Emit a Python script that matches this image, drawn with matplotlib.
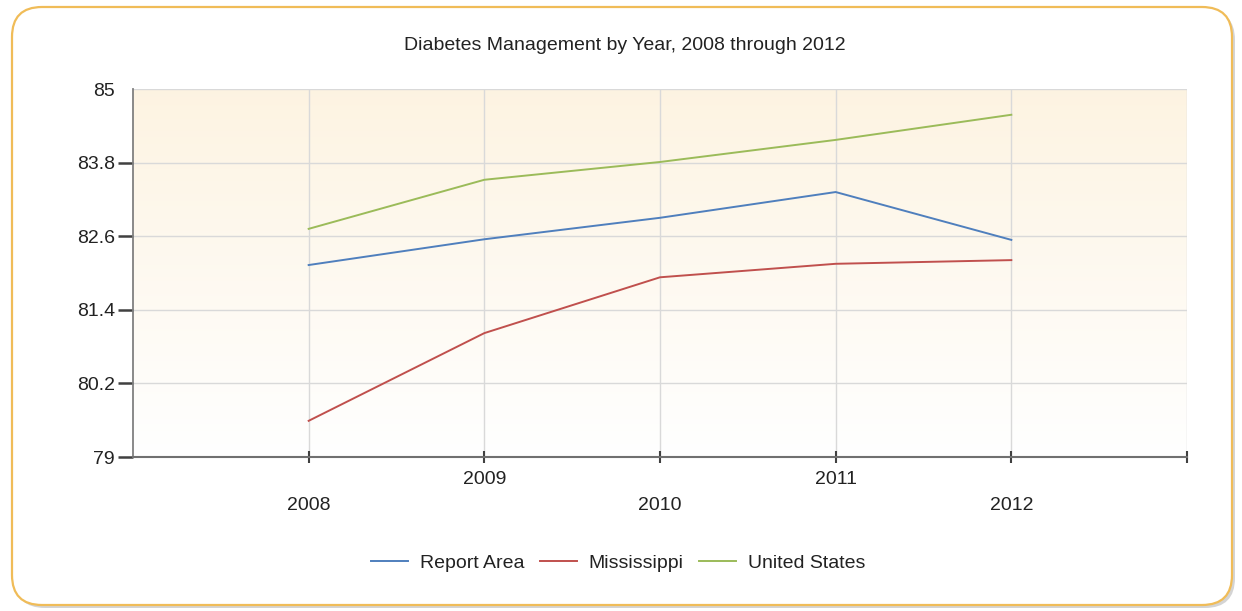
import matplotlib
matplotlib.use('Agg')
import matplotlib.pyplot as plt
import numpy as np
from matplotlib.patches import FancyBboxPatch

plt.rcParams['font.family'] = ['Liberation Sans', 'DejaVu Sans']

# data
years = [2008, 2009, 2010, 2011, 2012]
report_area = [82.13, 82.55, 82.90, 83.32, 82.54]
mississippi = [79.59, 81.02, 81.93, 82.15, 82.21]
united_states = [82.72, 83.52, 83.81, 84.17, 84.58]
series_names = ['Report Area', 'Mississippi', 'United States']
series_colors = ['#4f7fbd', '#c0504d', '#9bbb59']
y_ticks = [79, 80.2, 81.4, 82.6, 83.8, 85]

W, H = 1242, 611
fig = plt.figure(figsize=(W / 100, H / 100), dpi=100)
fig.patch.set_facecolor('white')

# rounded frame with a soft shadow (inches)
tr = fig.dpi_scale_trans
shadow = FancyBboxPatch((0.15, 0.03), 12.2, 5.98, boxstyle='round,pad=0,rounding_size=0.3',
                        transform=tr, facecolor='#b8b8b8', edgecolor='none', alpha=0.6, zorder=0)
frame = FancyBboxPatch((0.12, 0.06), 12.2, 5.98, boxstyle='round,pad=0,rounding_size=0.3',
                       transform=tr, facecolor='white', edgecolor='#f0bc58', linewidth=1.6, zorder=1)
fig.patches.extend([shadow, frame])

ax = fig.add_axes([133 / W, 1 - 457 / H, (1187 - 133) / W, (457 - 89) / H])
ax.set_facecolor('none')
ax.set_zorder(2)

# beige to white gradient background
grad = np.linspace(1, 0, 256).reshape(-1, 1)
top = np.array([0.992, 0.955, 0.885])
bot = np.array([1.0, 1.0, 1.0])
img = grad[..., None] * top + (1 - grad[..., None]) * bot
ax.imshow(img, extent=[2007, 2013, 79, 85], aspect='auto', zorder=0, origin='upper')

for vals, name, col in zip([report_area, mississippi, united_states], series_names, series_colors):
    ax.plot(years, vals, color=col, linewidth=1.4, label=name, zorder=3)

ax.set_xlim(2007, 2013)
ax.set_ylim(79, 85)
ax.set_yticks(y_ticks)
ax.set_yticklabels(['79', '80.2', '81.4', '82.6', '83.8', '85'])
ax.set_xticks(years + [2013])
ax.set_xticklabels([str(y) for y in years] + [''])

ax.grid(True, color='#d9d9d9', linewidth=1.0, zorder=1)
ax.set_axisbelow(True)

for s in ['top', 'right']:
    ax.spines[s].set_visible(False)
ax.spines['left'].set_color('#808080')
ax.spines['bottom'].set_color('#707070')
ax.spines['left'].set_linewidth(1.3)
ax.spines['bottom'].set_linewidth(1.5)

ax.tick_params(axis='y', direction='out', length=11, width=1.8, color='#404040',
               labelsize=14, labelcolor='#222222', pad=2)
ax.tick_params(axis='x', direction='inout', length=8, width=1.5, color='#404040',
               labelsize=14, labelcolor='#222222', pad=6)
for i, tick in enumerate(ax.xaxis.get_major_ticks()):
    if i % 2 == 0:
        tick.set_pad(25)
# 85 has no tick mark in the reference
ax.yaxis.get_major_ticks()[-1].tick1line.set_visible(False)

fig.text(625 / W, 1 - 45 / H, 'Diabetes Management by Year, 2008 through 2012',
         ha='center', va='center', fontsize=14, color='#222222')

fig.legend(loc='center', bbox_to_anchor=(618 / W, 1 - 563 / H), ncol=3, frameon=False,
           fontsize=14, handlelength=1.9, handletextpad=0.6, columnspacing=0.8,
           labelcolor='#222222')

fig.savefig('out.png', dpi=100, facecolor='white')
